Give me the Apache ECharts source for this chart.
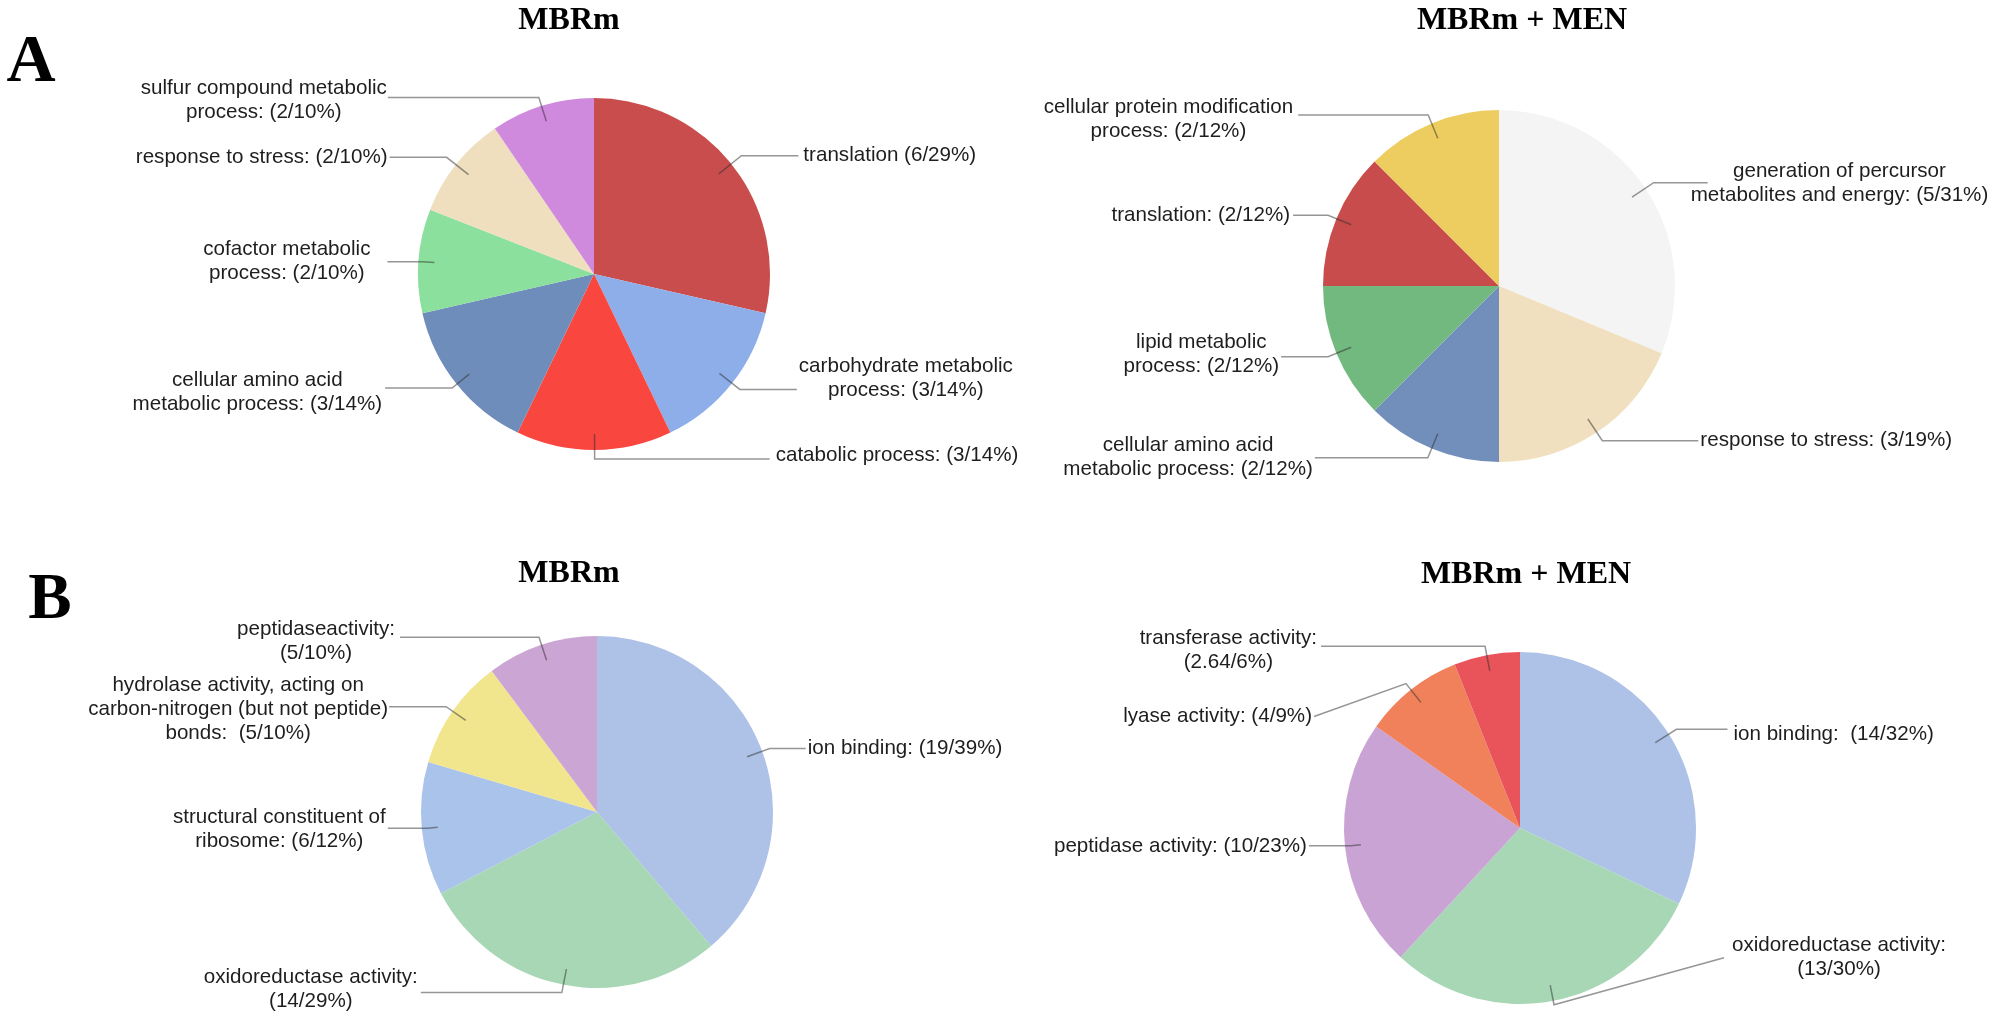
<!DOCTYPE html>
<html>
<head>
<meta charset="utf-8">
<script src="https://cdn.jsdelivr.net/npm/echarts@6/dist/echarts.min.js"></script>
<style>
html,body{margin:0;padding:0;background:#ffffff;}
#chart{width:2001px;height:1012px;}
</style>
</head>
<body>
<div id="chart"></div>
<script>
// ================= DATA =================
const panelLetters = ['A', 'B'];
const panelTitles = ['MBRm', 'MBRm + MEN', 'MBRm', 'MBRm + MEN'];

// A - left (MBRm)
const aLeftNames = ['translation', 'carbohydrate metabolic process', 'catabolic process',
  'cellular amino acid metabolic process', 'cofactor metabolic process',
  'response to stress', 'sulfur compound metabolic process'];
const aLeftValues = [6, 3, 3, 3, 2, 2, 2];
const aLeftLabels = ['translation (6/29%)', 'carbohydrate metabolic\nprocess: (3/14%)',
  'catabolic process: (3/14%)', 'cellular amino acid\nmetabolic process: (3/14%)',
  'cofactor metabolic\nprocess: (2/10%)', 'response to stress: (2/10%)',
  'sulfur compound metabolic\nprocess: (2/10%)'];

// A - right (MBRm + MEN)
const aRightNames = ['generation of percursor metabolites and energy', 'response to stress',
  'cellular amino acid metabolic process', 'lipid metabolic process', 'translation',
  'cellular protein modification process'];
const aRightValues = [5, 3, 2, 2, 2, 2];
const aRightLabels = ['generation of percursor\nmetabolites and energy: (5/31%)',
  'response to stress: (3/19%)', 'cellular amino acid\nmetabolic process: (2/12%)',
  'lipid metabolic\nprocess: (2/12%)', 'translation: (2/12%)',
  'cellular protein modification\nprocess: (2/12%)'];

// B - left (MBRm)
const bLeftNames = ['ion binding', 'oxidoreductase activity', 'structural constituent of ribosome',
  'hydrolase activity, acting on carbon-nitrogen (but not peptide) bonds', 'peptidase activity'];
const bLeftValues = [19, 14, 6, 5, 5];
const bLeftLabels = ['ion binding: (19/39%)', 'oxidoreductase activity:\n(14/29%)',
  'structural constituent of\nribosome: (6/12%)',
  'hydrolase activity, acting on\ncarbon-nitrogen (but not peptide)\nbonds:  (5/10%)',
  'peptidaseactivity:\n(5/10%)'];

// B - right (MBRm + MEN)
const bRightNames = ['ion binding', 'oxidoreductase activity', 'peptidase activity',
  'lyase activity', 'transferase activity'];
const bRightValues = [14, 13, 10, 4, 2.64];
const bRightLabels = ['ion binding:  (14/32%)', 'oxidoreductase activity:\n(13/30%)',
  'peptidase activity: (10/23%)', 'lyase activity: (4/9%)', 'transferase activity:\n(2.64/6%)'];

// ================= STYLE =================
const aLeftColors = ['#c94d4d', '#8eaeea', '#f9463f', '#6f8dba', '#8be09e', '#efdfbf', '#d08add'];
const aRightColors = ['#f4f4f5', '#f0e0bf', '#728fbb', '#72b97f', '#c94c4c', '#edcd5f'];
const bLeftColors = ['#adc2e6', '#a7d7b5', '#aac3ea', '#f1e58d', '#cba5d4'];
const bRightColors = ['#adc2e6', '#a7d7b5', '#c9a3d4', '#f0815a', '#e9545a'];

// leader-line tuning (first segment, second segment, gap to text, text shift, bent end)
const aLeftLine = { len: [29, 26, 25, 22, 12, 28, 25], len2: [57, 57, 175, 67, 35, 57, 151],
  dist: [5, 2, 6, 3, 17, 2, 1], shift: [0, -11, -4, 4, 0, 0, 3], bend: [0, 0, 0, 0, 0, 0, 0] };
const aRightLine = { len: [26, 26, 26, 25, 25, 25], len2: [54, 96, 113, 47, 35, 130],
  dist: [-17, 2, 2, 2, 3, 5], shift: [1, 0, -1, -2, 0, 4], bend: [0, 0, 0, 0, 0, 0] };
const bLeftLine = { len: [24, 24, 10, 24, 24], len2: [36, 141, 40, 57, 139],
  dist: [2, 3, 2, 1, 5], shift: [0, -3, 1, 3, 4], bend: [0, 0, 0, 0, 0] };
const bRightLine = { len: [25, 20, 10, 24, 25], len2: [51, 170, 42, 92, 164],
  dist: [6, 8, 2, 2, 4], shift: [5, -47, 0, 33, 4], bend: [0, 1, 0, 1, 0] };

const PIE_R = 176;
const LINE_R = 160;
const LABEL_FONT = '"Liberation Sans", Arial, Helvetica, sans-serif';
const LABEL_SIZE = 20.6;
const TITLE_FONT = '"Liberation Serif", "Times New Roman", serif';

function richText(s) {
  return s.split('\n').map(function (l) { return '{c|' + l + '}'; }).join('\n');
}

function makeLayout(cfg) {
  return function (p) {
    const pts = p.labelLinePoints;
    if (!pts || pts.length < 3) return {};
    const i = p.dataIndex;
    const y = pts[2][1] + (cfg.shift[i] || 0);
    const out = { y: y };
    if (cfg.bend[i]) {
      out.labelLinePoints = [pts[0], pts[1], [pts[2][0], y]];
    } else {
      out.labelLinePoints = pts;
    }
    return out;
  };
}

function pieSeries(names, values, colors, center) {
  return {
    type: 'pie',
    silent: true,
    center: center,
    radius: PIE_R,
    startAngle: 90,
    avoidLabelOverlap: false,
    label: { show: false },
    labelLine: { show: false },
    emphasis: { disabled: true },
    itemStyle: { borderWidth: 0 },
    z: 2,
    data: names.map(function (n, i) {
      return { name: n, value: values[i], itemStyle: { color: colors[i] } };
    })
  };
}

function labelSeries(names, values, labels, center, cfg, startAngle) {
  return {
    type: 'pie',
    silent: true,
    center: center,
    radius: LINE_R,
    startAngle: startAngle,
    avoidLabelOverlap: false,
    emphasis: { disabled: true },
    itemStyle: { color: 'rgba(0,0,0,0)', borderWidth: 0 },
    z: 3,
    labelLayout: makeLayout(cfg),
    label: {
      show: true,
      position: 'outside',
      color: '#1e1e1e',
      fontFamily: LABEL_FONT,
      fontSize: LABEL_SIZE,
      lineHeight: 24,
      formatter: function (p) { return richText(labels[p.dataIndex]); },
      rich: {
        c: { align: 'center', color: '#1e1e1e', fontFamily: LABEL_FONT, fontSize: LABEL_SIZE, lineHeight: 24 }
      }
    },
    labelLine: {
      show: true,
      smooth: false,
      lineStyle: { color: 'rgba(45,45,45,0.5)', width: 1.5 }
    },
    data: names.map(function (n, i) {
      return {
        name: n,
        value: values[i],
        label: { distanceToLabelLine: cfg.dist[i] },
        labelLine: { length: cfg.len[i], length2: cfg.len2[i] }
      };
    })
  };
}

const chart = echarts.init(document.getElementById('chart'), null, { renderer: 'canvas' });

const centers = [[594, 274], [1499, 286], [597, 812], [1520, 828]];

const option = {
  backgroundColor: '#ffffff',
  animation: false,
  graphic: [
    { type: 'text', x: 31, y: 63, style: { text: panelLetters[0], font: 'bold 68px ' + TITLE_FONT, fill: '#000', textAlign: 'center', textVerticalAlign: 'middle' } },
    { type: 'text', x: 50, y: 601, style: { text: panelLetters[1], font: 'bold 65px ' + TITLE_FONT, fill: '#000', textAlign: 'center', textVerticalAlign: 'middle' } },
    { type: 'text', x: 569, y: 21, style: { text: panelTitles[0], font: 'bold 32px ' + TITLE_FONT, fill: '#000', textAlign: 'center', textVerticalAlign: 'middle' } },
    { type: 'text', x: 1522, y: 21, style: { text: panelTitles[1], font: 'bold 32px ' + TITLE_FONT, fill: '#000', textAlign: 'center', textVerticalAlign: 'middle' } },
    { type: 'text', x: 569, y: 574, style: { text: panelTitles[2], font: 'bold 32px ' + TITLE_FONT, fill: '#000', textAlign: 'center', textVerticalAlign: 'middle' } },
    { type: 'text', x: 1526, y: 575, style: { text: panelTitles[3], font: 'bold 32px ' + TITLE_FONT, fill: '#000', textAlign: 'center', textVerticalAlign: 'middle' } }
  ],
  series: [
    pieSeries(aLeftNames, aLeftValues, aLeftColors, centers[0]),
    pieSeries(aRightNames, aRightValues, aRightColors, centers[1]),
    pieSeries(bLeftNames, bLeftValues, bLeftColors, centers[2]),
    pieSeries(bRightNames, bRightValues, bRightColors, centers[3]),
    labelSeries(aLeftNames, aLeftValues, aLeftLabels, centers[0], aLeftLine, 90.2),
    labelSeries(aRightNames, aRightValues, aRightLabels, centers[1], aRightLine, 90),
    labelSeries(bLeftNames, bLeftValues, bLeftLabels, centers[2], bLeftLine, 90),
    labelSeries(bRightNames, bRightValues, bRightLabels, centers[3], bRightLine, 90)
  ]
};

chart.setOption(option);
</script>
</body>
</html>
